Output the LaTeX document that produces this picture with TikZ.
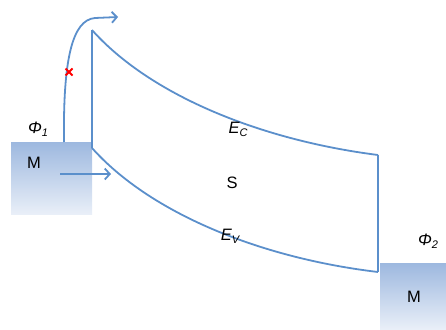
\documentclass[tikz,border=0pt]{standalone}
\usepackage{fontspec}
\setmainfont{Liberation Sans}
\usetikzlibrary{arrows.meta}
\definecolor{bandline}{HTML}{5B8FCB}
\definecolor{mtop}{HTML}{9DB8DF}
\definecolor{mbot}{HTML}{E9EFF8}
\newcommand{\subx}[1]{\raisebox{-0.35ex}{\fontsize{11}{12}\selectfont #1}}
\tikzset{
  band/.style={draw=bandline, line width=1.8pt, line join=round},
  lbl/.style={font=\fontsize{16.5}{18}\selectfont, inner sep=0pt},
  flow/.style={band, -{Straight Barb[length=5pt,width=11pt,line width=1.8pt]}}
}
\begin{document}
\begin{tikzpicture}[x=1pt,y=-1pt]
\useasboundingbox (0,0) rectangle (446,329);
% metals
\fill[top color=mtop, bottom color=mbot] (11,142) rectangle (92,214);
\fill[top color=mtop, bottom color=mbot] (380,263) rectangle (446,329);
% key points
\coordinate (ecL) at (92,30);
\coordinate (evL) at (92,148);
\coordinate (ecR) at (378,155);
\coordinate (evR) at (378,272);
% band edges
\draw[band] (ecL) .. controls (150,95) and (260,140) .. (ecR);
\draw[band] (evL) .. controls (150,213) and (260,258) .. (evR);
\draw[band] (ecL) -- (evL);
\draw[band] (ecR) -- (evR);
% arrows
\coordinate (a0) at (64,142);
\coordinate (a1) at (95,18);
\coordinate (a2) at (118,17);
\draw[flow] (a0) .. controls (63,60) and (72,20) .. (a1) -- (a2);
\coordinate (b0) at (60,174);
\coordinate (b1) at (111,174);
\draw[flow] (b0) -- (b1);
% red cross
\coordinate (x) at (69,72);
\draw[red, line width=1.8pt] ([shift={(-3.5,-3.5)}]x) -- ([shift={(3.5,3.5)}]x) ([shift={(-3.5,3.5)}]x) -- ([shift={(3.5,-3.5)}]x);
% labels
\node[lbl] (phi1) at (38,129) {\textit{Φ\subx{1}}};
\node[lbl] (m1) at (34,163) {M};
\node[lbl] (s) at (232,183) {S};
\node[lbl] (ec) at (238,129) {\textit{E\subx{C}}};
\node[lbl] (ev) at (230,236) {\textit{E\subx{V}}};
\node[lbl] (phi2) at (428,241) {\textit{Φ\subx{2}}};
\node[lbl] (m2) at (414,297) {M};
\end{tikzpicture}
\end{document}
